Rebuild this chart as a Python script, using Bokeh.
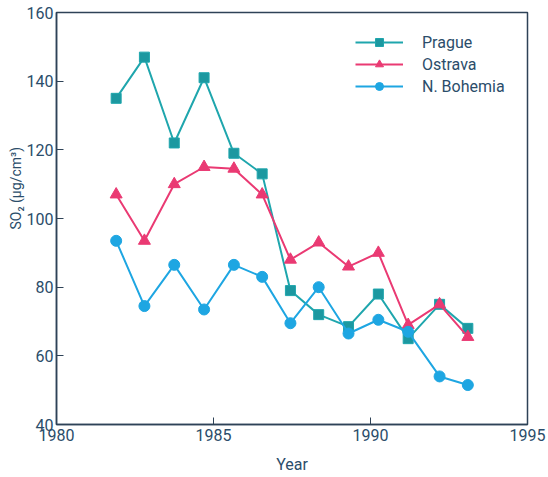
from bokeh.plotting import figure
from bokeh.models import Range1d, FixedTicker, Legend, LegendItem, Title
from bokeh.embed import file_html
from bokeh.resources import INLINE

years = [1981.9, 1982.8, 1983.75, 1984.7, 1985.65, 1986.55, 1987.45, 1988.35, 1989.3, 1990.25, 1991.2, 1992.2, 1993.1]
prague = [135, 147, 122, 141, 119, 113, 79, 72, 68.5, 78, 65, 75, 68]
ostrava = [107, 93.5, 110, 115, 114.5, 107, 88, 93, 86, 90, 69, 75, 65.5]
n_bohemia = [93.5, 74.5, 86.5, 73.5, 86.5, 83, 69.5, 80, 66.5, 70.5, 67, 54, 51.5]
x_ticks = [1980, 1985, 1990, 1995]
y_ticks = [40, 60, 80, 100, 120, 140, 160]

FONT = "Roboto"
TXT = "#2b4d6a"
AX = "#2e4257"

p = figure(width=546, height=476, output_backend="svg", toolbar_location=None,
           x_range=Range1d(1980, 1995), y_range=Range1d(40, 160),
           min_border_left=56, min_border_right=19, min_border_top=12, min_border_bottom=51)
p.background_fill_color = "white"
p.border_fill_color = "white"
p.grid.visible = False
p.outline_line_color = AX
p.outline_line_width = 1.5

p.xaxis.ticker = FixedTicker(ticks=x_ticks)
p.yaxis.ticker = FixedTicker(ticks=y_ticks)
for ax in (p.xaxis[0], p.yaxis[0]):
    ax.axis_line_color = AX
    ax.axis_line_width = 1.5
    ax.major_tick_line_color = AX
    ax.major_tick_in = 7
    ax.major_tick_out = 0
    ax.minor_tick_line_color = None
    ax.major_label_text_font = FONT
    ax.major_label_text_font_size = "16px"
    ax.major_label_text_color = TXT
    ax.axis_label_text_font = FONT
    ax.axis_label_text_color = TXT
    ax.axis_label_text_font_style = "normal"
p.xaxis.major_label_standoff = 4
p.yaxis.major_label_standoff = 3
p.xaxis.axis_label = "Year"
p.xaxis.axis_label_text_font_size = "16px"
p.xaxis.axis_label_standoff = 11

ylab = Title(text="SO\u2082 (\u00b5g/cm\u00b3)", align="left", offset=195,
             text_font=FONT, text_font_size="14px", text_color=TXT,
             text_font_style="normal", standoff=0)
p.add_layout(ylab, "left")

c_pr_line = "#1fa6ad"
c_pr_fill = "#1c98a0"
c_os = "#ea3a73"
c_nb = "#1ea6e2"

l1 = p.line(years, prague, line_color=c_pr_line, line_width=2)
m1 = p.scatter(years, prague, marker="square", size=10, fill_color=c_pr_fill, line_color=c_pr_line)
l2 = p.line(years, ostrava, line_color=c_os, line_width=2)
m2 = p.scatter(years, ostrava, marker="triangle", size=12, fill_color=c_os, line_color=c_os)
l3 = p.line(years, n_bohemia, line_color=c_nb, line_width=2)
m3 = p.scatter(years, n_bohemia, marker="circle", size=11, fill_color=c_nb, line_color=c_nb)

legend = Legend(items=[
    LegendItem(label="Prague", renderers=[l1, m1]),
    LegendItem(label="Ostrava", renderers=[l2, m2]),
    LegendItem(label="N. Bohemia", renderers=[l3, m3]),
])
legend.border_line_color = None
legend.background_fill_alpha = 0
legend.label_text_font = FONT
legend.label_text_font_size = "16px"
legend.label_text_color = TXT
legend.glyph_width = 48
legend.label_standoff = 19
legend.spacing = 2
legend.margin = 0
legend.padding = 0
legend.location = (299, 328)
p.add_layout(legend)

open("out.html", "w").write(file_html(p, INLINE))
